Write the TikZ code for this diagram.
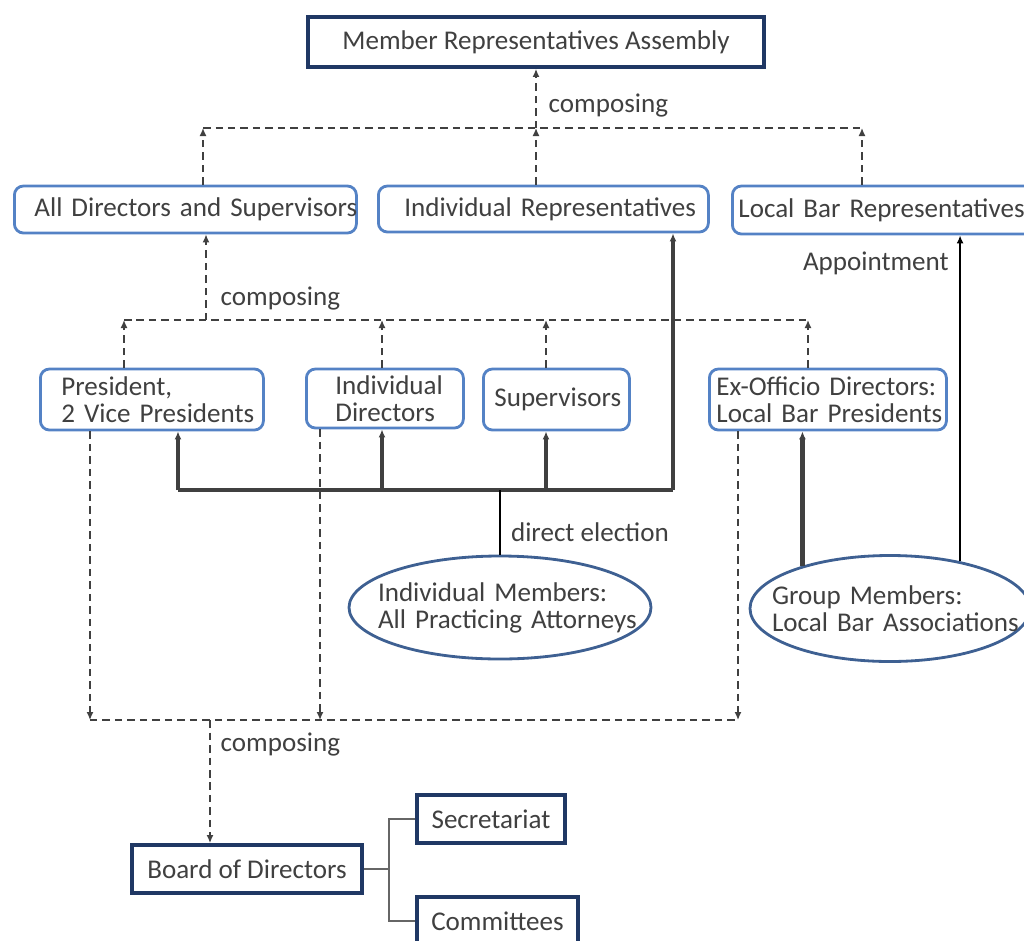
\documentclass[tikz,border=0pt]{standalone}
\usepackage{fontspec}
\setmainfont{Carlito}
\usetikzlibrary{arrows.meta,positioning,shapes.geometric}
\newlength\px
\setlength\px{0.02cm}
\definecolor{navy}{RGB}{32,56,100}
\definecolor{boxblue}{RGB}{84,130,197}
\definecolor{ellblue}{RGB}{62,96,146}
\definecolor{txt}{RGB}{64,64,64}

\begin{document}
\begin{tikzpicture}[x=1\px,y=-1\px,
	every node/.style={font=\fontsize{15.4pt}{15.4pt}\selectfont,text=txt},
	navybox/.style={draw=navy,line width=2.2pt,inner sep=0pt,minimum height=48\px},
	bluebox/.style={draw=boxblue,line width=1.6pt,rounded corners=9\px,anchor=west,align=left},
	member/.style={ellipse,draw=ellblue,line width=1.6pt,inner ysep=0pt,align=left},
	lbl/.style={anchor=west,inner sep=0pt},
	dashline/.style={draw=black!75,line width=0.8pt,dash pattern=on 1.5mm off 1mm},
	compose/.style={dashline,-{Latex[length=1.6mm,width=1.4mm]}},
	elect/.style={draw=black!75,line width=2pt,-{Latex[length=1.6mm,width=1.4mm]}},
	orgline/.style={draw=black!60,line width=1pt}]
	\useasboundingbox (0,0) rectangle (1024,940);
	\clip (0,0) rectangle (1024,940);

	\node[navybox,minimum width=456\px,minimum height=50\px] (mra) at (536,42) {Member Representatives Assembly};

	\node[bluebox,text width=302\px,inner xsep=20\px,minimum height=47\px] (ads) at (13,209.5) {\mbox{All Directors and Supervisors}};
	\node[bluebox,text width=278\px,inner xsep=26\px,minimum height=46\px] (ir) at (377,209) {\mbox{Individual Representatives}};
	\node[bluebox,text width=308\px,inner xsep=6\px,minimum height=48\px] (lbr) at (731,210) {\mbox{Local Bar Representatives}};

	\node[bluebox,text width=181\px,inner xsep=21\px,minimum height=61\px] (pres) at (39,399.5) {\mbox{President,}\\\mbox{2 Vice Presidents}};
	\node[bluebox,text width=99\px,inner xsep=29\px,minimum height=59\px] (idir) at (305,398.5) {\mbox{Individual}\\\mbox{Directors}};
	\node[bluebox,text width=124\px,inner xsep=11\px,minimum height=61\px] (sup) at (482,399.5) {\mbox{Supervisors}};
	\node[bluebox,text width=223\px,inner xsep=7\px,minimum height=61\px] (exo) at (708,399.5) {\mbox{Ex-Officio Directors:}\\\mbox{Local Bar Presidents}};

	\node[member,text width=244\px,inner xsep=-16\px,minimum width=302\px,minimum height=103\px] (im) at (500,607.5) {\mbox{Individual Members:}\\\mbox{All Practicing Attorneys}};
	\node[member,text width=236\px,inner xsep=-20\px,minimum width=280\px,minimum height=106\px] (gm) at (890,608.5) {\mbox{Group Members:}\\\mbox{Local Bar Associations}};

	\node[navybox,minimum width=230\px] (board) at (247,869) {Board of Directors};
	\node[navybox,minimum width=148\px] (secr) at (491,819) {Secretariat};
	\node[navybox,minimum width=161\px] (comm) at (497.5,921) {Committees};

	\coordinate (t1l) at (203,128);
	\coordinate (t1m) at (536,128);
	\coordinate (t1r) at (862,128);
	\coordinate (t2l) at (124,320);
	\coordinate (t2a) at (382,320);
	\coordinate (t2b) at (546,320);
	\coordinate (t2r) at (808,320);
	\coordinate (t2up) at (206,320);
	\coordinate (t3l) at (90,720);
	\coordinate (t3m) at (320,720);
	\coordinate (t3r) at (738,720);
	\coordinate (t3dn) at (210,720);
	\coordinate (e1) at (178,490);
	\coordinate (e2) at (382,490);
	\coordinate (e3) at (546,490);
	\coordinate (e4) at (673,490);
	\coordinate (ejoin) at (500,490);
	\coordinate (bj) at (389,869);

	\draw[dashline] (t1l) -- (t1r);
	\draw[compose] (ads.north -| t1l) -- (t1l);
	\draw[compose] (ir.north -| t1m) -- (t1m);
	\draw[compose] (lbr.north -| t1r) -- (t1r);
	\draw[compose] (t1m) -- node[lbl,pos=0.377,xshift=12\px] {composing} (mra.south -| t1m);

	\draw[dashline] (t2l) -- (t2r);
	\draw[compose] (pres.north -| t2l) -- (t2l);
	\draw[compose] (idir.north -| t2a) -- (t2a);
	\draw[compose] (sup.north -| t2b) -- (t2b);
	\draw[compose] (exo.north -| t2r) -- (t2r);
	\draw[compose] (t2up) -- node[lbl,pos=0.253,xshift=14\px] {composing} (ads.south -| t2up);

	\draw[dashline] (t3l) -- (t3r);
	\draw[compose] (pres.south -| t3l) -- (t3l);
	\draw[compose] (idir.south -| t3m) -- (t3m);
	\draw[compose] (exo.south -| t3r) -- (t3r);
	\draw[compose] (t3dn) -- node[lbl,pos=0.2,xshift=10\px] {composing} (board.north -| t3dn);

	\draw[elect,-] (e1) -- (e4);
	\draw[elect] (e1) -- (pres.south -| e1);
	\draw[elect] (e2) -- (idir.south -| e2);
	\draw[elect] (e3) -- (sup.south -| e3);
	\draw[elect] (e4) -- (ir.south -| e4);
	\draw[black,line width=1.2pt] (im.north) -- node[lbl,pos=0.35,xshift=10\px] {direct election} (ejoin);

	\draw[elect,line width=2.6pt] (gm.154.5) -- (exo.south -| gm.154.5);
	\draw[black,line width=1.5pt,-{Latex[length=1.6mm,width=1.4mm]}] (gm.34.8) -- node[anchor=east,inner sep=0pt,pos=0.915,xshift=-10\px] {Appointment} (lbr.south -| gm.34.8);

	\draw[orgline] (board.east) -- (bj);
	\draw[orgline] (secr.west) -| (bj) |- (comm.west);
\end{tikzpicture}
\end{document}
